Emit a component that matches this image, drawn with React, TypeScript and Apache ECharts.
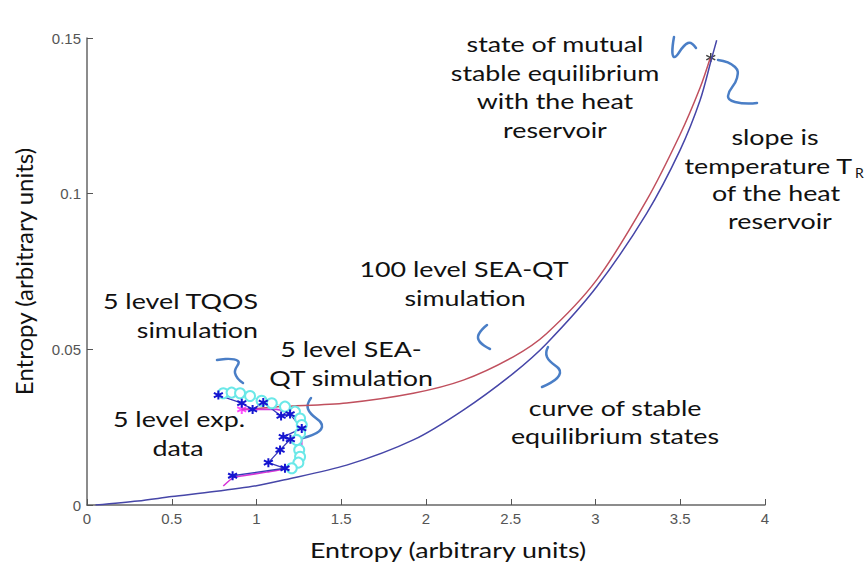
import React, { useEffect, useRef } from "react";
import * as echarts from "echarts";

// ---- data ----
const xTickLabels = ["0", "0.5", "1", "1.5", "2", "2.5", "3", "3.5", "4"];
const yTickLabels = ["0", "0.05", "0.1", "0.15"];

const stableCurve: [number, number][] = [
  [0.05, 0.0], [0.3, 0.0013], [0.5, 0.0027], [0.75, 0.0043], [1.0, 0.0062],
  [1.139, 0.0078], [1.532, 0.0128], [1.925, 0.0209], [2.22, 0.0305],
  [2.515, 0.0423], [2.712, 0.0519], [3.007, 0.0701], [3.302, 0.0937],
  [3.499, 0.114], [3.617, 0.13], [3.685, 0.1434], [3.715, 0.1493],
];

const sim100Curve: [number, number][] = [
  [0.913, 0.0307], [1.0, 0.031], [1.139, 0.0316], [1.532, 0.0328],
  [1.925, 0.0359], [2.22, 0.0401], [2.515, 0.0476], [2.712, 0.0551],
  [3.007, 0.0723], [3.302, 0.0979], [3.499, 0.119], [3.617, 0.134],
  [3.676, 0.1434],
];

const sea5Curve: [number, number][] = [
  [0.804, 0.0061], [0.863, 0.0088], [0.922, 0.0094], [1.06, 0.0106],
  [1.178, 0.0118], [1.237, 0.0145], [1.267, 0.0187], [1.267, 0.0241],
  [1.247, 0.0273], [1.198, 0.0294], [1.119, 0.0307], [0.977, 0.0307],
  [0.913, 0.0307],
];

const tqosPoints: [number, number][] = [
  [0.804, 0.0359], [0.853, 0.0361], [0.903, 0.0359], [0.962, 0.035],
  [1.03, 0.0335], [1.09, 0.0327], [1.168, 0.0316], [1.227, 0.03],
  [1.257, 0.0278], [1.267, 0.0257], [1.257, 0.023], [1.237, 0.0209],
  [1.252, 0.0177], [1.257, 0.0155], [1.247, 0.0136], [1.208, 0.0118],
];

const expPoints: [number, number][] = [
  [0.775, 0.0353], [0.913, 0.0327], [0.977, 0.0307], [1.04, 0.0329],
  [1.145, 0.0286], [1.198, 0.0292], [1.267, 0.0246], [1.158, 0.0219],
  [1.2, 0.0211], [1.139, 0.0177], [1.07, 0.0136], [1.168, 0.0118],
  [0.859, 0.0094],
];

const seaStart: [number, number][] = [[0.913, 0.0307]];
const mutualEq: [number, number][] = [[3.68, 0.1437]];

const ASTERISK = "path://M5,0L5,10M0.7,2.5L9.3,7.5M0.7,7.5L9.3,2.5";
const TEXT_FONT = "Lato, 'Open Sans', sans-serif";
const TICK_FONT = "'Liberation Sans', Arial, sans-serif";
const SQUIG = "#4a7ec6";
const STRETCH = 1.22;

export default function App() {
  const ref = useRef<HTMLDivElement>(null);
  useEffect(() => {
    if (!ref.current) return;
    const chart = echarts.init(ref.current, undefined, { renderer: "svg" });

    const txt = (text: string, x: number, y: number, align = "center", size = 22) => ({
      type: "text",
      x,
      y,
      scaleX: STRETCH,
      silent: true,
      style: {
        text,
        fontFamily: TEXT_FONT,
        fontSize: size,
        fill: "#111",
        align,
        verticalAlign: "middle",
      },
    });
    const squiggle = (pts: number[][]) => ({
      type: "polyline",
      silent: true,
      shape: { points: pts, smooth: 0.5 },
      style: { stroke: SQUIG, lineWidth: 2.5, fill: null, lineCap: "round" },
    });

    chart.setOption({
      animation: false,
      backgroundColor: "#fff",
      grid: { left: 87, right: 101, top: 38, bottom: 58, containLabel: false },
      xAxis: {
        type: "value",
        min: 0,
        max: 4,
        interval: 0.5,
        axisLine: { show: true, lineStyle: { color: "#666", width: 1.5 } },
        axisTick: { show: true, inside: true, length: 6, lineStyle: { color: "#555" } },
        axisLabel: {
          margin: 6,
          color: "#555",
          fontFamily: TICK_FONT,
          fontSize: 15,
          formatter: (_v: number, i: number) => xTickLabels[i] ?? "",
        },
        splitLine: { show: false },
      },
      yAxis: {
        type: "value",
        min: 0,
        max: 0.15,
        interval: 0.05,
        name: "Entropy (arbitrary units)",
        nameLocation: "middle",
        nameGap: 52,
        nameTextStyle: { fontFamily: TEXT_FONT, fontSize: 24, color: "#111" },
        axisLine: { show: true, lineStyle: { color: "#666", width: 1.5 } },
        axisTick: { show: true, inside: true, length: 6, lineStyle: { color: "#555" } },
        axisLabel: {
          margin: 6,
          color: "#555",
          fontFamily: TICK_FONT,
          fontSize: 15,
          formatter: (_v: number, i: number) => yTickLabels[i] ?? "",
        },
        splitLine: { show: false },
      },
      series: [
        {
          name: "stable",
          type: "line",
          data: stableCurve,
          smooth: 0.3,
          showSymbol: false,
          lineStyle: { color: "#4646a8", width: 1.5 },
        },
        {
          name: "100 level",
          type: "line",
          data: sim100Curve,
          smooth: 0.3,
          showSymbol: false,
          lineStyle: { color: "#c0505e", width: 1.5 },
        },
        {
          name: "tqos",
          type: "line",
          data: tqosPoints,
          symbol: "emptyCircle",
          symbolSize: 10,
          itemStyle: { color: "#6ae8e8", borderColor: "#6ae8e8", borderWidth: 1.3 },
          lineStyle: { color: "#8ef0f0", width: 1 },
        },
        {
          name: "sea5",
          type: "line",
          data: sea5Curve,
          smooth: 0.2,
          showSymbol: false,
          lineStyle: { color: "#d735d7", width: 1.6 },
        },
        {
          name: "exp",
          type: "line",
          data: expPoints,
          symbol: ASTERISK,
          symbolSize: 9,
          itemStyle: { color: "#1515d0", borderColor: "#1515d0", borderWidth: 2 },
          lineStyle: { color: "#3838b8", width: 1.3 },
        },
        {
          name: "seaStart",
          type: "scatter",
          data: seaStart,
          symbol: ASTERISK,
          symbolSize: 9,
          itemStyle: { color: "#ff20ff", borderColor: "#ff20ff", borderWidth: 2 },
        },
        {
          name: "mutual",
          type: "scatter",
          data: mutualEq,
          symbol: ASTERISK,
          symbolSize: 9,
          itemStyle: { color: "#111", borderColor: "#111", borderWidth: 1.5 },
        },
      ],
      graphic: [
        txt("Entropy (arbitrary units)", 448, 549),
        txt("state of mutual", 555, 43),
        txt("stable equilibrium", 555, 72),
        txt("with the heat", 555, 100),
        txt("reservoir", 555, 129),
        txt("slope is", 775, 136),
        txt("temperature T", 852, 165, "right"),
        {
          type: "text",
          x: 855,
          y: 172,
          silent: true,
          style: { text: "R", fontFamily: TEXT_FONT, fontSize: 14, fill: "#111", align: "left", verticalAlign: "middle" },
        },
        txt("of the heat", 776, 192),
        txt("reservoir", 780, 220),
        txt("100 level SEA-QT", 464, 268),
        txt("simulation", 465, 297),
        txt("5 level TQOS", 258, 300, "right"),
        txt("simulation", 258, 329, "right"),
        txt("5 level SEA-", 351, 348),
        txt("QT simulation", 351, 377),
        txt("5 level exp.", 179, 418),
        txt("data", 178, 447),
        txt("curve of stable", 615, 407),
        txt("equilibrium states", 615, 435),
        squiggle([[674, 37], [674, 57], [688, 43], [696, 48]]),
        squiggle([[718, 60], [735, 67], [737, 78], [728, 96], [735, 102], [757, 103]]),
        squiggle([[217, 360], [238, 361], [235, 373], [243, 383]]),
        squiggle([[311, 398], [308, 409], [322, 427], [303, 438]]),
        squiggle([[487, 325], [478, 338], [490, 349]]),
        squiggle([[548, 347], [547, 357], [560, 373], [542, 387]]),
      ],
    });
    return () => chart.dispose();
  }, []);
  return (
    <div
      ref={ref}
      style={{ position: "absolute", left: 0, top: 0, width: 866, height: 563, overflow: "hidden" }}
    />
  );
}
